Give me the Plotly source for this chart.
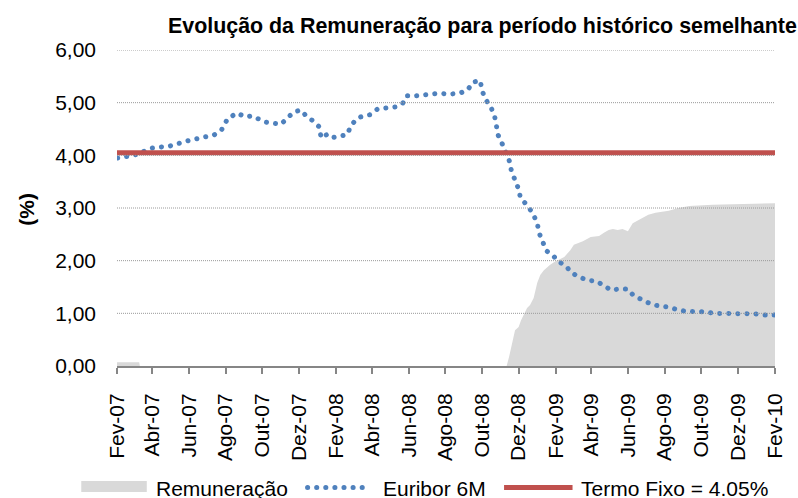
import plotly.graph_objects as go

# ---------------- data ----------------
chart_title = "Evolução da Remuneração para período histórico semelhante"
y_axis_title = "(%)"
series_names = ["Remuneração", "Euribor 6M", "Termo Fixo = 4.05%"]

x_tick_dates = ["2007-02-01", "2007-04-01", "2007-06-01", "2007-08-01", "2007-10-01",
                "2007-12-01", "2008-02-01", "2008-04-01", "2008-06-01", "2008-08-01",
                "2008-10-01", "2008-12-01", "2009-02-01", "2009-04-01", "2009-06-01",
                "2009-08-01", "2009-10-01", "2009-12-01", "2010-02-01"]
x_tick_labels = ["Fev-07", "Abr-07", "Jun-07", "Ago-07", "Out-07", "Dez-07", "Fev-08",
                 "Abr-08", "Jun-08", "Ago-08", "Out-08", "Dez-08", "Fev-09", "Abr-09",
                 "Jun-09", "Ago-09", "Out-09", "Dez-09", "Fev-10"]
y_tick_vals = [0, 1, 2, 3, 4, 5, 6]
y_tick_labels = ["0,00", "1,00", "2,00", "3,00", "4,00", "5,00", "6,00"]

rem_dates = ["2007-02-01", "2007-03-10", "2007-03-11", "2008-11-11", "2008-11-15",
             "2008-11-20", "2008-11-25", "2008-12-01", "2008-12-05", "2008-12-15",
             "2008-12-20", "2008-12-26", "2009-01-01", "2009-01-06", "2009-01-12",
             "2009-01-22", "2009-01-30", "2009-02-15", "2009-02-25", "2009-03-03",
             "2009-03-18", "2009-03-31", "2009-04-14", "2009-04-22", "2009-04-30",
             "2009-05-07", "2009-05-15", "2009-05-23", "2009-06-01", "2009-06-09",
             "2009-06-19", "2009-06-26", "2009-07-05", "2009-07-17", "2009-08-08",
             "2009-08-24", "2009-09-11", "2009-10-20", "2009-12-30", "2010-02-01"]
rem_values = [0.07, 0.07, 0.0, 0.0, 0.17,
              0.44, 0.68, 0.74, 0.87, 1.10,
              1.16, 1.29, 1.58, 1.73, 1.82,
              1.92, 1.98, 2.07, 2.20, 2.30,
              2.37, 2.45, 2.47, 2.53, 2.58,
              2.60, 2.58, 2.60, 2.56, 2.71,
              2.77, 2.81, 2.87, 2.91, 2.95,
              3.00, 3.04, 3.06, 3.09, 3.09]

eur_dates = ["2007-02-02", "2007-02-22", "2007-03-01", "2007-04-01", "2007-05-01",
             "2007-05-28", "2007-06-28", "2007-07-13", "2007-07-25", "2007-08-04",
             "2007-08-19", "2007-09-04", "2007-09-13", "2007-10-07", "2007-11-01",
             "2007-11-13", "2007-11-22", "2007-12-04", "2007-12-13", "2007-12-25",
             "2008-01-04", "2008-01-07", "2008-01-16", "2008-01-22", "2008-02-07",
             "2008-02-19", "2008-02-25", "2008-03-04", "2008-03-13", "2008-03-28",
             "2008-04-10", "2008-04-25", "2008-05-10", "2008-05-22", "2008-05-28",
             "2008-06-13", "2008-06-28", "2008-07-07", "2008-07-22", "2008-08-07",
             "2008-08-25", "2008-09-07", "2008-09-16", "2008-09-28", "2008-10-01",
             "2008-10-07", "2008-10-16", "2008-10-22", "2008-10-25", "2008-10-28",
             "2008-11-04", "2008-11-16", "2008-11-19", "2008-11-25", "2008-12-01",
             "2008-12-04", "2008-12-16", "2008-12-25", "2009-01-01", "2009-01-04",
             "2009-01-10", "2009-01-16", "2009-01-28", "2009-02-04", "2009-02-18",
             "2009-02-26", "2009-03-10", "2009-03-25", "2009-04-10", "2009-04-22",
             "2009-05-04", "2009-05-16", "2009-06-01", "2009-06-10", "2009-06-25",
             "2009-07-07", "2009-07-22", "2009-08-07", "2009-08-19", "2009-09-04",
             "2009-09-22", "2009-10-07", "2009-10-22", "2009-11-10", "2009-11-25",
             "2009-12-13", "2009-12-28", "2010-01-13", "2010-02-01"]
eur_values = [3.95, 3.97, 4.00, 4.14, 4.18,
              4.27, 4.35, 4.39, 4.48, 4.69,
              4.80, 4.73, 4.75, 4.63, 4.59,
              4.71, 4.82, 4.86, 4.75, 4.65,
              4.54, 4.33, 4.39, 4.33, 4.37,
              4.39, 4.54, 4.67, 4.73, 4.77,
              4.88, 4.90, 4.92, 4.99, 5.13,
              5.13, 5.15, 5.16, 5.18, 5.16,
              5.18, 5.24, 5.39, 5.42, 5.23,
              5.06, 4.91, 4.74, 4.55, 4.38,
              4.21, 3.88, 3.70, 3.53, 3.36,
              3.19, 3.04, 2.89, 2.71, 2.53,
              2.35, 2.19, 2.09, 1.99, 1.90,
              1.78, 1.70, 1.63, 1.61, 1.53,
              1.44, 1.46, 1.46, 1.34, 1.25,
              1.19, 1.14, 1.12, 1.08, 1.04,
              1.03, 1.03, 1.00, 1.00, 1.00,
              1.00, 0.99, 0.97, 0.97]

fixed_rate = 4.05

# ---------------- styles ----------------
FONT = "Liberation Sans, Arial, sans-serif"
GREY_FILL = "#D9D9D9"
BLUE = "#4F81BD"
RED = "#C0504D"
AXIS_GREY = "#868686"
GRID_GREY = "#9A9A9A"
DOT_DASH = "0.1px,9px"

fig = go.Figure()

fig.add_trace(go.Scatter(
    x=rem_dates, y=rem_values, name=series_names[0], mode="lines",
    line=dict(width=0, color=GREY_FILL), fill="tozeroy", fillcolor=GREY_FILL,
    showlegend=False, hoverinfo="skip"))

fig.add_trace(go.Scatter(
    x=eur_dates, y=eur_values, name=series_names[1], mode="lines", uid="euribor",
    line=dict(width=5, color=BLUE, dash=DOT_DASH), showlegend=False))

fig.add_trace(go.Scatter(
    x=[x_tick_dates[0], x_tick_dates[-1]], y=[fixed_rate, fixed_rate],
    name=series_names[2], mode="lines", line=dict(width=5, color=RED),
    showlegend=False))

shapes = []
# dotted gridlines drawn above the grey area
for v in y_tick_vals[1:]:
    shapes.append(dict(type="line", xref="paper", yref="y", x0=0, x1=1, y0=v, y1=v,
                       line=dict(color=GRID_GREY, width=1, dash="1px,1px"),
                       layer="above"))

# custom legend
W, H = 798, 498
L, R, T, B = 117, 18, 50, 132
pw, ph = W - L - R, H - T - B


def px(x):
    return (x - L) / pw


def py(y):
    return (H - B - y) / ph


leg_y = 488.5
shapes.append(dict(type="rect", xref="paper", yref="paper",
                   x0=px(81), x1=px(147), y0=py(492), y1=py(481),
                   fillcolor=GREY_FILL, line=dict(width=0)))
shapes.append(dict(type="line", xref="paper", yref="paper",
                   x0=px(309), x1=px(372), y0=py(487.5), y1=py(487.5),
                   line=dict(color=BLUE, width=5, dash=DOT_DASH)))
shapes.append(dict(type="line", xref="paper", yref="paper",
                   x0=px(507), x1=px(576), y0=py(487.5), y1=py(487.5),
                   line=dict(color=RED, width=5)))

annotations = [
    dict(text="<b>" + chart_title + "</b>", xref="paper", yref="paper",
         x=px(485), y=py(26), xanchor="center", yanchor="middle", showarrow=False,
         font=dict(family=FONT, size=21.4, color="#000000")),
    dict(text="<b>" + y_axis_title + "</b>", xref="paper", yref="paper",
         x=px(25), y=py(209), xanchor="center", yanchor="middle", showarrow=False,
         textangle=-90, font=dict(family=FONT, size=21, color="#000000")),
    dict(text=series_names[0], xref="paper", yref="paper", x=px(154), y=py(leg_y),
         xanchor="left", yanchor="middle", showarrow=False,
         font=dict(family=FONT, size=21, color="#000000")),
    dict(text=series_names[1], xref="paper", yref="paper", x=px(383), y=py(leg_y),
         xanchor="left", yanchor="middle", showarrow=False,
         font=dict(family=FONT, size=21, color="#000000")),
    dict(text=series_names[2], xref="paper", yref="paper", x=px(583), y=py(leg_y),
         xanchor="left", yanchor="middle", showarrow=False,
         font=dict(family=FONT, size=21, color="#000000")),
]

fig.update_layout(
    width=W, height=H,
    margin=dict(l=L, r=R, t=T, b=B, pad=0),
    paper_bgcolor="white", plot_bgcolor="white",
    font=dict(family=FONT, size=21, color="#000000"),
    showlegend=False,
    shapes=shapes,
    annotations=annotations,
    xaxis=dict(type="date", range=[x_tick_dates[0], x_tick_dates[-1]],
               tickmode="array", tickvals=x_tick_dates, ticktext=x_tick_labels,
               tickangle=-90, ticks="outside", ticklen=6, tickwidth=1.5,
               tickcolor=AXIS_GREY, showline=True, linecolor=AXIS_GREY, linewidth=2,
               showgrid=False, zeroline=False, ticklabelstandoff=11,
               tickfont=dict(family=FONT, size=21, color="#000000")),
    yaxis=dict(range=[0, 6], tickmode="array", tickvals=y_tick_vals,
               ticktext=y_tick_labels, showgrid=False, zeroline=False,
               showline=False, ticks="", ticklabelstandoff=20,
               tickfont=dict(family=FONT, size=21, color="#000000")),
)

post_js = """
document.documentElement.style.margin = '0';
document.documentElement.style.padding = '0';
document.body.style.margin = '0';
document.body.style.padding = '0';
document.body.style.overflow = 'hidden';
var st = document.createElement('style');
st.textContent = 'html, body {margin:0 !important; padding:0 !important;} .traceeuribor path.js-line, path[style*="0.1px, 9px"], path[style*="0.1px,9px"] {stroke-linecap: round !important;}';
document.head.appendChild(st);
"""

fig.write_html("out.html", post_script=post_js, config={"displayModeBar": False})
